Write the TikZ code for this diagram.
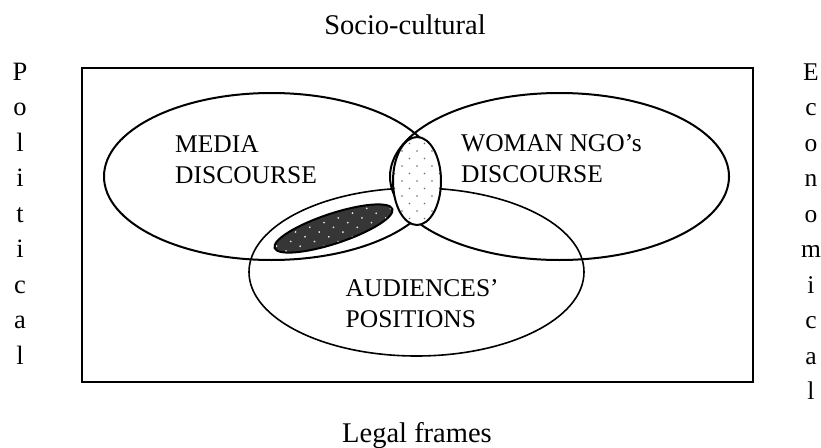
\documentclass[tikz,border=0pt]{standalone}
\usepackage{fontspec}
\setmainfont{Liberation Serif}
\usetikzlibrary{shapes.geometric}
\definecolor{darkfill}{HTML}{363636}
\definecolor{lightdot}{HTML}{E6E6E6}
\definecolor{greydot}{HTML}{6A6A6A}
\begin{document}
\begin{tikzpicture}[x=1pt,y=-1pt,
  set/.style={draw, ellipse, line width=2pt, inner sep=0pt},
  dotted fill/.style 2 args={path picture={
    \foreach \j in {-8,...,8}{
      \foreach \i in {-6,...,6}{
        \fill[#1] ([shift={({\i*15+mod(\j+20,2)*7.5},{\j*7.5})}]path picture bounding box.center) circle[radius=#2];
      }}}},
  lbl/.style={font=\fontsize{25.5}{31}\selectfont, align=left, anchor=north west, inner sep=0pt},
  outer/.style={font=\fontsize{28.5}{34}\selectfont, anchor=base, inner sep=0pt},
  vletter/.style={font=\fontsize{26.5}{30}\selectfont, anchor=base, inner sep=0pt},
]
\useasboundingbox (0,0) rectangle (821,447);

% surrounding frame
\node[draw, line width=1.8pt, minimum width=671pt, minimum height=314pt,
      inner sep=0pt, anchor=north west] (frame) at (81,67) {};

% the three discourse sets
\node[set, minimum width=335pt, minimum height=167pt] (media) at (271.5,176.5) {};
\node[set, minimum width=339pt, minimum height=167pt] (ngo) at (559.5,176.5) {};
\node[set, line width=1.6pt, minimum width=335pt, minimum height=168pt] (aud) at (416.5,272) {};

% overlap regions
\node[set, fill=darkfill, dotted fill={lightdot}{1pt}, minimum width=124pt,
      minimum height=30pt, rotate=18.3] (mediaaud) at (333.5,228.5) {};
\node[set, fill=white, dotted fill={greydot}{0.95pt}, minimum width=48pt,
      minimum height=88pt] (core) at (417,181) {};

% set labels
\node[lbl] (mediatxt) at (175,135.5) {MEDIA\\DISCOURSE};
\node[lbl] (ngotxt) at (461,134.8) {WOMAN NGO’s\\DISCOURSE};
\node[lbl] (audtxt) at (345.5,279) {AUDIENCES’\\POSITIONS};

% context labels
\node[outer] (socio) at (405,34) {Socio-cultural};
\node[outer] (legal) at (417,442) {Legal frames};
\foreach \ch [count=\k] in {P,o,l,i,t,i,c,a,l}
  \node[vletter] (pol\k) at (20,{80+(\k-1)*35.5}) {\ch};
\foreach \ch [count=\k] in {E,c,o,n,o,m,i,c,a,l}
  \node[vletter, font=\fontsize{25.5}{30}\selectfont] (eco\k) at (811,{80+(\k-1)*35.5}) {\ch};
\end{tikzpicture}
\end{document}
